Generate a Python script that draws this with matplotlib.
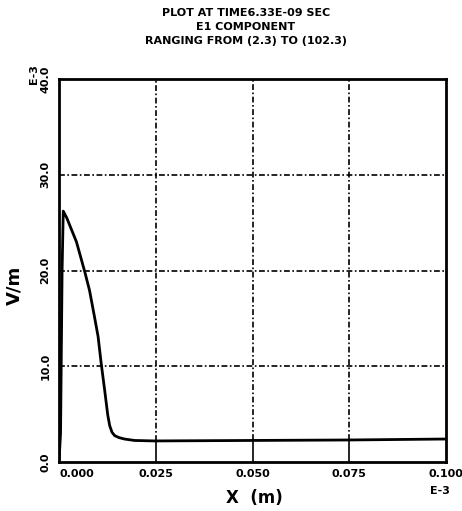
import numpy as np
import matplotlib
matplotlib.use("Agg")
import matplotlib.pyplot as plt

# E1 component sampled along x (both axes in units of E-3)
x_pos = [0.0000, 0.0004, 0.0008, 0.0011, 0.0020, 0.0033, 0.0045, 0.0054, 0.0067, 0.0079,
         0.0092, 0.0101, 0.0109, 0.0118, 0.0126, 0.0131, 0.0137, 0.0144, 0.0155, 0.0169,
         0.0195, 0.0246, 0.0500, 0.0750, 0.1000]
e1_val = [0.0, 3.0, 20.0, 26.2, 25.5, 24.2, 23.0, 21.7, 19.8, 17.9,
          15.1, 13.1, 10.3, 7.5, 4.9, 3.8, 3.1, 2.75, 2.55, 2.4,
          2.25, 2.2, 2.25, 2.3, 2.4]

x_ticks = [0.0, 0.025, 0.050, 0.075, 0.100]
x_ticklabels = ["0.000", "0.025", "0.050", "0.075", "0.100"]
y_ticks = [0.0, 10.0, 20.0, 30.0, 40.0]
y_ticklabels = ["0.0", "10.0", "20.0", "30.0", "40.0"]

title_lines = ["PLOT AT TIME6.33E-09 SEC",
               "E1 COMPONENT",
               "RANGING FROM (2.3) TO (102.3)"]

plt.rcParams['font.family'] = ['DejaVu Sans']
plt.rcParams['font.weight'] = 'bold'

fig = plt.figure(figsize=(4.62, 5.11), dpi=100)
ax = fig.add_axes([59 / 462, 1 - 462 / 511, 387 / 462, 383 / 511])

ax.plot(x_pos, e1_val, color='black', lw=2.0, solid_joinstyle='round')

ax.set_xlim(0.0, 0.100)
ax.set_ylim(0.0, 40.0)

# dash-dot grid on the interior divisions; solid under the curve's tail
grid_ls = (0, (3.5, 1.5, 1, 1.5))
for xv in x_ticks[1:-1]:
    base = np.interp(xv, x_pos, e1_val)
    ax.plot([xv, xv], [base, 40.0], color='black', lw=1.2, ls=grid_ls)
    ax.plot([xv, xv], [0.0, base], color='black', lw=1.2)
for yv in y_ticks[1:-1]:
    ax.axhline(yv, color='black', lw=1.2, ls=grid_ls)

ax.set_xticks([])
ax.set_yticks([])
for s in ax.spines.values():
    s.set_linewidth(2.0)

# tick labels
for i, (xv, lab) in enumerate(zip(x_ticks, x_ticklabels)):
    ax.text(xv, -1.3, lab, ha='left' if i == 0 else 'center', va='center',
            fontsize=8, fontweight='bold', clip_on=False)
for yv, lab in zip(y_ticks, y_ticklabels):
    ax.text(-0.0035, yv, lab, ha='center', va='center', rotation=90,
            fontsize=8, fontweight='bold', clip_on=False)

ax.text(-0.0065, 40.5, "E-3", ha='center', va='center', rotation=90,
        fontsize=8, fontweight='bold', clip_on=False)
ax.text(0.0985, -3.0, "E-3", ha='center', va='center',
        fontsize=8, fontweight='bold', clip_on=False)

fig.text(14 / 462, 1 - 285 / 511, "V/m", rotation=90, ha='center', va='center',
         fontsize=13, fontweight='bold')
fig.text(254 / 462, 1 - 498 / 511, "X  (m)", ha='center', va='center',
         fontsize=12, fontweight='bold')

for k, line in enumerate(title_lines):
    fig.text(246 / 462, 1 - (13 + 14 * k) / 511, line, ha='center', va='center',
             fontsize=8, fontweight='bold')

fig.savefig("out.png", dpi=100, facecolor='white')
